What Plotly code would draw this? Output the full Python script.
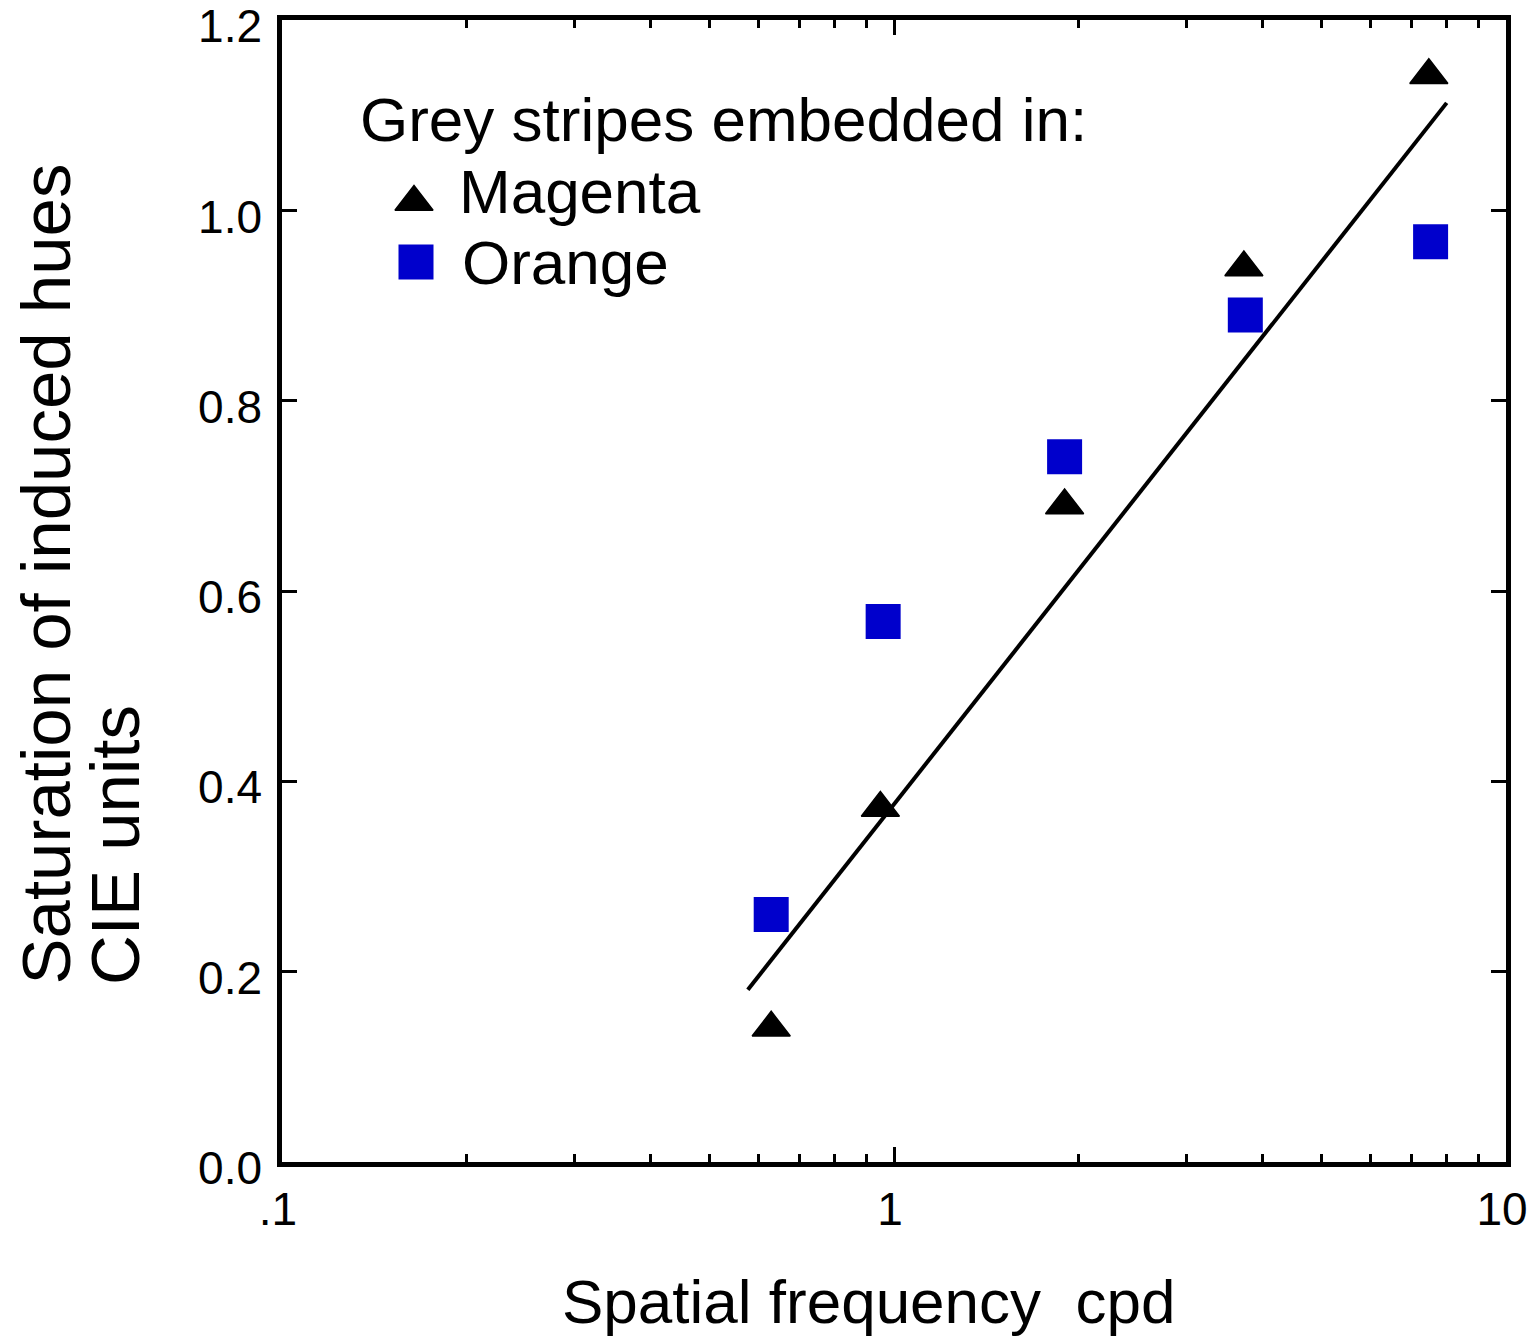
import plotly.graph_objects as go

# ---- data ----
freq_magenta = [0.63, 0.95, 1.9, 3.73, 7.48]
sat_magenta = [0.141, 0.372, 0.690, 0.940, 1.142]
freq_orange = [0.63, 0.96, 1.9, 3.75, 7.53]
sat_orange = [0.260, 0.568, 0.741, 0.890, 0.967]
fit_freq = [0.577, 8.0]
fit_sat = [0.181, 1.113]

x_tickvals = [0.1, 1, 10]
x_ticktext = [".1", "1", "10"]
x_minor = [0.2, 0.3, 0.4, 0.5, 0.6, 0.7, 0.8, 0.9, 2, 3, 4, 5, 6, 7, 8, 9]
y_tickvals = [0, 0.2, 0.4, 0.6, 0.8, 1.0, 1.2]
y_ticktext = ["0.0", "0.2", "0.4", "0.6", "0.8", "1.0", "1.2"]

legend_title = "Grey stripes embedded in:"
legend_names = ["Magenta", "Orange"]
x_title = "Spatial frequency \u00a0cpd"
y_title_lines = ["Saturation of induced hues", "CIE units"]

FONT = "Liberation Sans, Arial, Helvetica, sans-serif"
BLUE = "#0000CC"

# the page body adds an 8px offset; size the figure so the plot lands where the reference has it
PAGE_OFF = 8
OFF_X, OFF_Y = 8, 8
W, H = 1535 - PAGE_OFF, 1337 - PAGE_OFF
REF_L, REF_R, REF_T, REF_B = 282, 1506, 20, 1162
L = REF_L - OFF_X
T = REF_T - OFF_Y
R = W - (REF_R - OFF_X)
B = H - (REF_B - OFF_Y)
PW, PH = REF_R - REF_L, REF_B - REF_T


def px_x(px):
    return (px - REF_L) / PW


def px_y(py):
    return (REF_B - py) / PH


fig = go.Figure()

fig.add_trace(go.Scatter(x=fit_freq, y=fit_sat, mode="lines",
                         line=dict(color="black", width=4), showlegend=False))
fig.add_trace(go.Scatter(x=freq_orange, y=sat_orange, mode="markers",
                         marker=dict(symbol="square", size=35, color=BLUE,
                                     line=dict(width=0)),
                         showlegend=False))
fig.add_trace(go.Scatter(x=freq_magenta, y=sat_magenta, mode="markers",
                         marker=dict(symbol="triangle-up", size=33, color="black",
                                     line=dict(width=1.5, color="black")),
                         showlegend=False))

# legend symbols drawn on an overlay axis in plot-fraction units
fig.add_trace(go.Scatter(x=[px_x(414)], y=[px_y(202)], xaxis="x2", yaxis="y2",
                         mode="markers",
                         marker=dict(symbol="triangle-up", size=33, color="black",
                                     line=dict(width=1.5, color="black")),
                         showlegend=False))
fig.add_trace(go.Scatter(x=[px_x(416)], y=[px_y(262)], xaxis="x2", yaxis="y2",
                         mode="markers",
                         marker=dict(symbol="square", size=35, color=BLUE,
                                     line=dict(width=0)),
                         showlegend=False))

annotations = [
    dict(text=legend_title, x=px_x(358), y=px_y(120), xanchor="left", yanchor="middle",
         font=dict(size=62)),
    dict(text=legend_names[0], x=px_x(457), y=px_y(192), xanchor="left", yanchor="middle",
         font=dict(size=62)),
    dict(text=legend_names[1], x=px_x(460), y=px_y(263), xanchor="left", yanchor="middle",
         font=dict(size=62)),
    dict(text=x_title, x=px_x(869), y=px_y(1301), xanchor="center", yanchor="middle",
         font=dict(size=62)),
    dict(text=y_title_lines[0], x=px_x(46), y=px_y(987), xanchor="center", yanchor="bottom",
         textangle=-90, font=dict(size=69)),
    dict(text=y_title_lines[1], x=px_x(115), y=px_y(987), xanchor="center", yanchor="bottom",
         textangle=-90, font=dict(size=69)),
]
for a in annotations:
    a.update(xref="paper", yref="paper", showarrow=False)
    a["font"].update(family=FONT, color="black")

axis_common = dict(showgrid=False, zeroline=False, showline=True, linecolor="black",
                   linewidth=4.5, mirror="ticks", ticks="inside", tickcolor="black",
                   tickwidth=2.5, ticklen=15, ticklabeloverflow="allow",
                   automargin=False,
                   tickfont=dict(family=FONT, size=46, color="black"))

fig.update_layout(
    width=W, height=H,
    margin=dict(l=L, r=R, t=T, b=B, pad=0, autoexpand=False),
    paper_bgcolor="white", plot_bgcolor="white",
    showlegend=False,
    xaxis=dict(type="log", range=[-1, 1], tickmode="array", tickvals=x_tickvals,
               ticktext=x_ticktext, ticklabelstandoff=3, ticklabelshift=-4,
               minor=dict(tickmode="array", tickvals=x_minor, ticks="inside",
                          ticklen=8, tickwidth=2.5, tickcolor="black", showgrid=False),
               **axis_common),
    yaxis=dict(range=[0, 1.2001], tickmode="array", tickvals=y_tickvals,
               ticktext=y_ticktext, ticklabelstandoff=6, ticklabelshift=6,
               **axis_common),
    xaxis2=dict(range=[0, 1], overlaying="x", visible=False, fixedrange=True),
    yaxis2=dict(range=[0, 1], overlaying="y", visible=False, fixedrange=True),
    annotations=annotations,
)

fig.write_html("out.html")
